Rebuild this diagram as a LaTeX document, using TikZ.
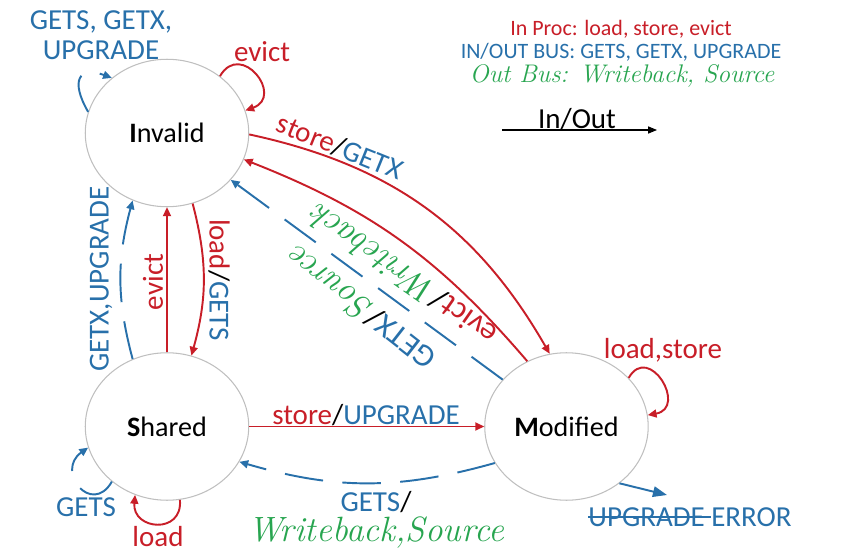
\documentclass[tikz,border=0pt]{standalone}
\usepackage{fontspec}
\setsansfont{Carlito}
\usetikzlibrary{positioning,shapes.geometric,arrows.meta}
\definecolor{procred}{RGB}{200,30,40}
\definecolor{busblue}{RGB}{40,112,170}
\definecolor{outgreen}{RGB}{40,165,80}
\newcommand{\wb}[2][20]{{\rmfamily\itshape\fontsize{#1}{#1}\selectfont\color{outgreen}#2}}
\newsavebox\strikebox
\newcommand{\strk}[1]{\sbox\strikebox{#1}\rlap{\usebox\strikebox}\rule[0.3em]{\wd\strikebox}{0.07em}}

\begin{document}
\begin{tikzpicture}[x=0.02cm, y=0.02cm,
    every node/.style={font=\sffamily\fontsize{16.5}{17}\selectfont},
    state/.style={ellipse, draw=black!25, line width=0.6pt,
      minimum width=3.27cm, minimum height=2.95cm, inner sep=0pt,
      font=\sffamily\fontsize{16}{19}\selectfont},
    procedge/.style={draw=procred, line width=1.1pt,
      -{Triangle[length=5pt,width=4.5pt]}},
    busedge/.style={draw=busblue, line width=1.1pt,
      dash pattern=on 22pt off 11pt, -{Triangle[length=5pt,width=4.5pt]}},
    proc/.style={text=procred}, bus/.style={text=busblue},
    diag/.style={font=\sffamily\fontsize{18}{20}\selectfont}]
  \useasboundingbox (0,0) rectangle (859,556);
  \node[state] (inv) at (167,423) {\textbf{I}nvalid};
  \node[state, below=2.9cm of inv] (shr) {\textbf{S}hared};
  \node[state, right=4.7cm of shr] (mod) {\textbf{M}odified};

  \draw[busedge] (inv.165) to[out=120, in=160, looseness=2.2] (inv.135);
  \draw[procedge] (inv.47) to[out=60, in=20, looseness=2.5] (inv.16);
  \draw[procedge] (shr) -- (inv);
  \draw[procedge] (inv.290) to[bend left=15] (shr.71);
  \draw[busedge] (shr.117) to[bend left=15] (inv.243);
  \draw[procedge] (inv.-1) to[bend left=24] (mod.103);
  \draw[procedge] (mod.121) to[bend right=14] (inv.-19);
  \draw[busedge] (mod) -- (inv);
  \draw[procedge] (shr) -- (mod);
  \draw[busedge] (mod.207) to[bend left=16] (shr.334);
  \draw[busedge] (shr.225) to[out=240, in=215, looseness=2.5] (shr.195);
  \draw[procedge] (shr.280) to[out=275, in=265, looseness=2] (shr.245);
  \draw[procedge] (mod.38) to[out=60, in=10, looseness=2.5] (mod.8);
  \coordinate (errtip) at (667,61);
  \draw[draw=busblue, line width=1.1pt, -{Triangle[length=8pt,width=6pt]}] (mod.-47) -- (errtip);

  \node[bus, align=center] (invbus) at (101,521) {GETS, GETX,\\UPGRADE};
  \node[proc] (invevict) at (262,504) {evict};
  \node[bus, rotate=90] (shrinvbus) at (101,277) {GETX,UPGRADE};
  \node[proc, rotate=90] (shrinvevict) at (153,274) {evict};
  \node[rotate=-90] (invshrlbl) at (219,276) {{\color{procred}load}/{\color{busblue}GETS}};
  \node[rotate=-22] (invmodlbl) at (340,409) {{\color{procred}store}/{\color{busblue}GETX}};
  \node[diag, rotate=145] (modinvevict) at (403,280) {{\color{procred}evict}/\wb{Writeback}};
  \node[diag, rotate=142] (modinvbus) at (361,247) {{\color{busblue}GETX}/\wb{Source}};
  \node (shrmodlbl) at (366,141) {{\color{procred}store}/{\color{busblue}UPGRADE}};
  \node[align=center] (modshrlbl) at (376,36) {{\color{busblue}GETS}/\\\wb{Writeback,Source}};
  \node[bus] (shrbus) at (86,49) {GETS};
  \node[proc] (shrload) at (158,19) {load};
  \node[proc] (modproc) at (663,206) {load,store};
  \node[bus] (errlbl) at (690,39) {\strk{UPGRADE }ERROR};

  \node[proc, font=\sffamily\fontsize{12.5}{14}\selectfont] (keyproc) at (621,527) {In Proc: load, store, evict};
  \node[bus, font=\sffamily\fontsize{12.5}{14}\selectfont] (keybus) at (621,504) {IN/OUT BUS: GETS, GETX, UPGRADE};
  \node (keyout) at (622,480) {\wb[14.5]{Out Bus: Writeback, Source}};
  \node (keyio) at (577,437) {In/Out};
  \coordinate (keyfrom) at (502,426);
  \coordinate (keyto) at (657,426);
  \draw[line width=0.6pt, -{Triangle[length=5pt,width=4pt]}] (keyfrom) -- (keyto);
\end{tikzpicture}
\end{document}
